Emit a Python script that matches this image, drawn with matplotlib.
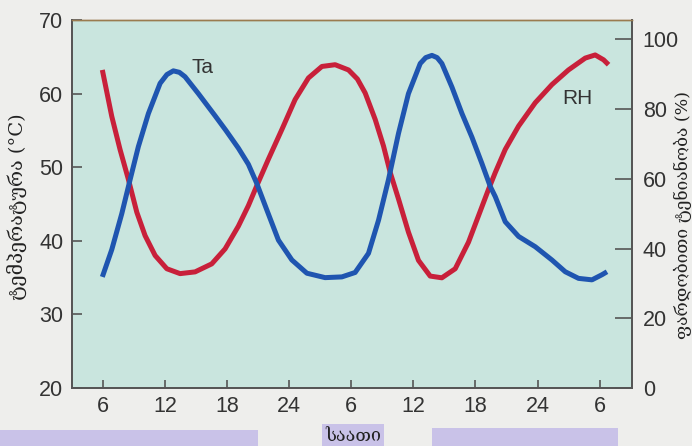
import matplotlib.pyplot as plt
from matplotlib.patches import Rectangle

# hours since midnight of day 1 (6 -> 54 covers two days)
ta_hours = [5.96, 6.87, 7.84, 8.64, 9.44, 10.41, 11.54, 12.2, 12.82, 13.4, 13.95, 15.24,
            16.85, 17.9, 19.1, 20.07, 20.88, 21.85, 22.97, 24.27, 25.72, 27.48, 29.10,
            30.38, 31.67, 32.64, 33.60, 34.57, 35.53, 36.67, 37.2, 37.80, 38.3, 38.76,
            39.73, 40.70, 41.66, 42.63, 43.43, 43.92, 44.88, 46.17, 47.78, 49.39, 50.68,
            51.96, 53.26, 54.23, 54.71]
ta_values = [35.1, 38.8, 43.7, 48.3, 52.8, 57.3, 61.4, 62.6, 63.1, 62.9, 62.3, 60.0,
             57.0, 55.0, 52.6, 50.4, 47.8, 44.2, 40.1, 37.4, 35.6, 35.0, 35.1,
             35.7, 38.3, 42.8, 48.3, 54.6, 60.0, 64.1, 64.9, 65.2, 64.9, 64.1,
             60.9, 57.3, 54.1, 50.5, 47.4, 46.0, 42.6, 40.6, 39.2, 37.4, 35.8,
             34.9, 34.7, 35.4, 35.8]

rh_hours = [5.96, 6.87, 7.67, 8.47, 9.29, 10.09, 11.06, 12.19, 13.47, 14.92, 16.53, 17.82,
            19.1, 20.07, 20.88, 22.0, 23.30, 24.58, 25.87, 27.17, 28.45, 29.74, 30.6,
            31.35, 32.32, 33.12, 33.77, 34.57, 35.53, 36.50, 37.63, 38.76, 40.05, 41.33,
            42.30, 43.27, 43.92, 44.88, 46.17, 47.78, 49.39, 50.99, 52.61, 53.57, 54.38, 54.86]
rh_values = [91.2, 77.9, 68.4, 59.9, 50.4, 43.7, 38.0, 34.2, 32.8, 33.3, 35.6, 39.9,
             46.4, 52.3, 58.0, 65.6, 74.1, 82.7, 88.9, 92.2, 92.7, 91.2, 88.6,
             84.6, 77.0, 69.4, 61.8, 54.2, 44.7, 36.6, 32.1, 31.6, 34.2, 41.8,
             49.4, 57.0, 61.8, 68.4, 75.1, 81.8, 87.0, 91.2, 94.6, 95.5, 94.1, 92.7]

tick_pos = [6, 12, 18, 24, 30, 36, 42, 48, 54]
tick_labels = ['6', '12', '18', '24', '6', '12', '18', '24', '6']

plt.rcParams['font.family'] = ['Liberation Sans', 'DejaVu Sans']

fig = plt.figure(figsize=(6.92, 4.46), dpi=100, facecolor='#eeeeec')
ax = fig.add_axes([0.1036, 0.130, 0.8093, 0.825])
ax2 = ax.twinx()
# blue (Ta) sits on top of red (RH)
ax.set_zorder(ax2.get_zorder() + 1)
ax.patch.set_visible(False)
ax2.patch.set_visible(True)
ax2.set_facecolor('#c9e5de')

ax2.plot(rh_hours, rh_values, color='#c8203a', lw=3.6, solid_capstyle='butt')
ax.plot(ta_hours, ta_values, color='#1f55b0', lw=3.6, solid_capstyle='butt')

ax.set_xlim(3.0, 57.1)
ax.set_ylim(20, 70)
ax2.set_ylim(0, 105.5)
ax.set_xticks(tick_pos)
ax.set_xticklabels(tick_labels)
ax.set_yticks([20, 30, 40, 50, 60, 70])
ax2.set_yticks([0, 20, 40, 60, 80, 100])

ax.tick_params(axis='x', direction='in', length=6, width=1.2, colors='#555555',
               labelcolor='#333333', labelsize=15.5, pad=6)
ax.tick_params(axis='y', direction='in', length=7, width=1.2, colors='#555555',
               labelcolor='#333333', labelsize=15.5, pad=6)
ax2.tick_params(axis='y', direction='in', length=12, width=1.2, colors='#555555',
                labelcolor='#333333', labelsize=15.5, pad=8)

for a in (ax, ax2):
    for s in a.spines.values():
        s.set_color('#555555')
        s.set_linewidth(1.3)
    a.spines['top'].set_color('#9a7b4f')
    a.spines['top'].set_linewidth(1.0)

ax.text(14.6, 62.8, 'Ta', fontsize=15, color='#333333')
ax2.text(50.4, 81.3, 'RH', fontsize=15, color='#333333')

# lavender strips at the bottom of the scan
fig.patches.append(Rectangle((0, 0), 258 / 692, 16 / 446, transform=fig.transFigure,
                             facecolor='#c9c2e8', edgecolor='none'))
fig.patches.append(Rectangle((432 / 692, 0), 186 / 692, 18 / 446, transform=fig.transFigure,
                             facecolor='#c9c2e8', edgecolor='none'))
fig.patches.append(Rectangle((322 / 692, 0), 62 / 692, 22 / 446, transform=fig.transFigure,
                             facecolor='#c9c2e8', edgecolor='none'))

geo = ['DejaVu Serif', 'DejaVu Sans']
fig.text(353 / 692, 1 - 436 / 446, 'საათი', fontsize=13, color='#222222',
         ha='center', va='center', family=geo)
fig.text(17 / 692, 1 - 207 / 446, 'ტემპერატურა (°C)', fontsize=14, color='#222222',
         rotation=90, ha='center', va='center', family=geo)
fig.text(683 / 692, 1 - 215 / 446, 'ფარდობითი ტენიანობა (%)', fontsize=12.5, color='#222222',
         rotation=90, ha='center', va='center', family=geo)

fig.savefig('out.png', dpi=100, facecolor=fig.get_facecolor())
